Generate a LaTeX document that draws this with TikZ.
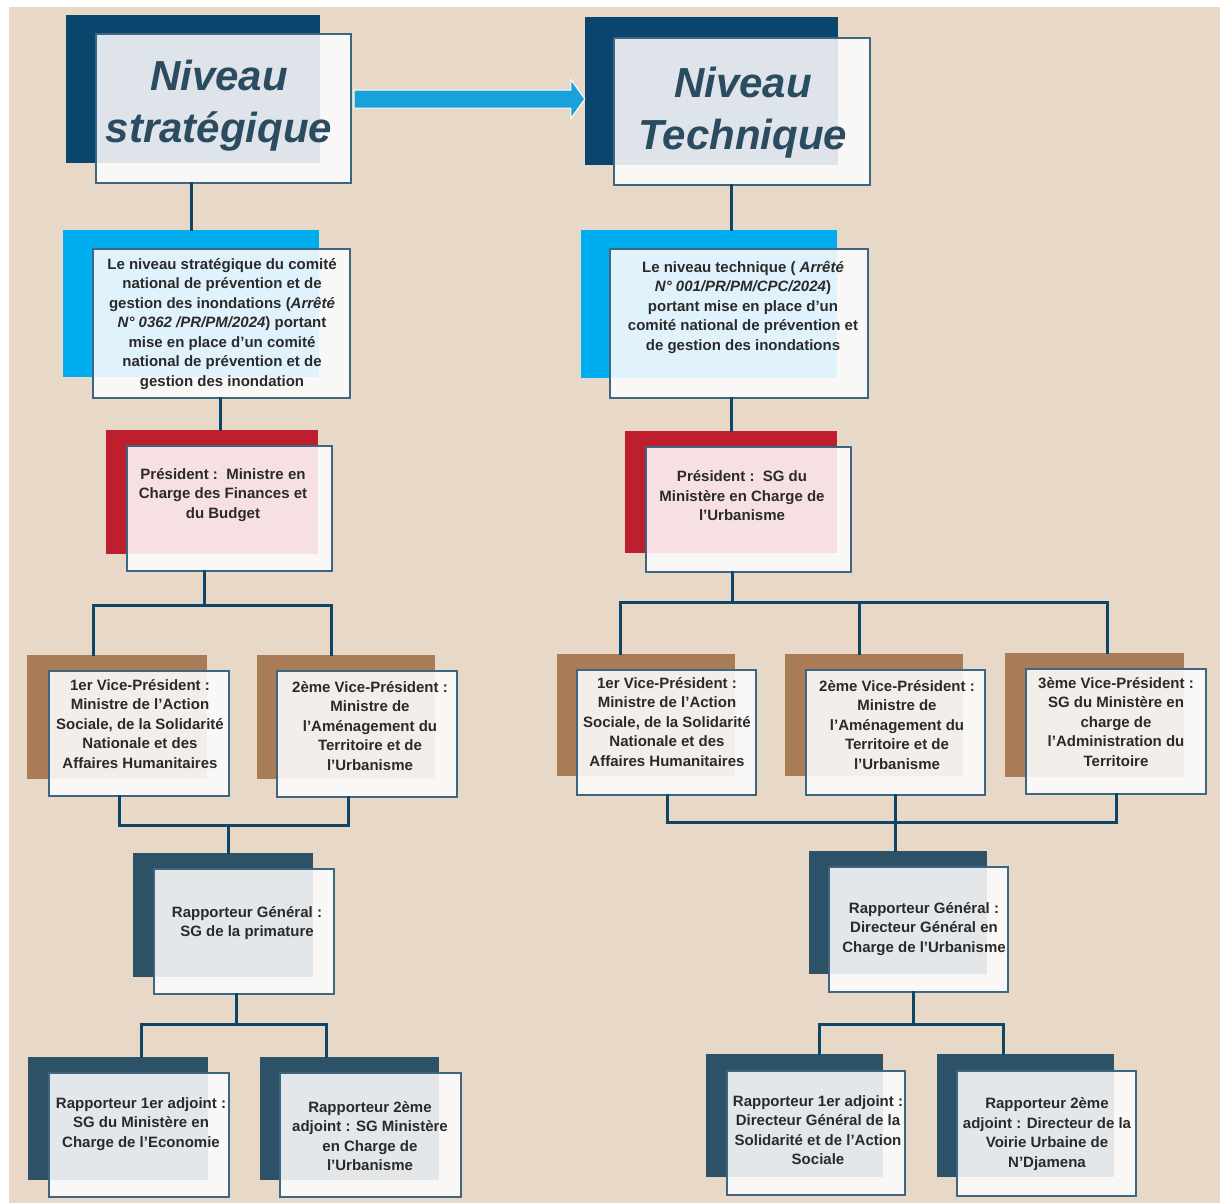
\documentclass[tikz,border=0pt]{standalone}
\usepackage{fontspec}
\setmainfont{Liberation Sans}
\usetikzlibrary{fit,calc}
\definecolor{bgc}{HTML}{E7D8C8}
\definecolor{navyc}{HTML}{0A456E}
\definecolor{navyt}{HTML}{DEE4EA}
\definecolor{bluec}{HTML}{00AEEF}
\definecolor{bluet}{HTML}{E0F3FC}
\definecolor{redc}{HTML}{BE1E2D}
\definecolor{redt}{HTML}{F6E0E3}
\definecolor{brownc}{HTML}{A97C57}
\definecolor{brownt}{HTML}{F3EEEA}
\definecolor{slatec}{HTML}{2D5166}
\definecolor{slatet}{HTML}{E3E7EA}
\definecolor{frontc}{HTML}{FAF8F6}
\definecolor{linec}{HTML}{3D6680}
\definecolor{connc}{HTML}{0F4668}
\definecolor{arrowc}{HTML}{18A2D9}
\definecolor{txtc}{HTML}{2A2A2A}
\definecolor{titlec}{HTML}{2B4B60}
\newcommand\orgbox[7]{%
  \fill[#2] #4 rectangle #5;
  \fill[frontc] #6 rectangle #7;
  \fill[#3] #6 rectangle #5;
  \draw[frontline] #6 rectangle #7;
  \path #4 coordinate (#1-b1) #5 coordinate (#1-b2) #6 coordinate (#1-f1) #7 coordinate (#1-f2);
  \node[fit=(#1-b1)(#1-b2)(#1-f1)(#1-f2), inner sep=0pt] (#1) {};
}
\begin{document}
\begin{tikzpicture}[x=1pt,y=-1pt,
  frontline/.style={draw=linec, line width=1.5pt},
  conn/.style={draw=connc, line width=3pt, line cap=rect},
  txt/.style={align=center, inner sep=0pt, text=txtc, font=\fontsize{15}{19.5}\selectfont\bfseries},
  ttl/.style={align=center, inner sep=0pt, text=titlec, font=\fontsize{42}{52}\selectfont\bfseries\itshape}]
\useasboundingbox (0,0) rectangle (1224,1203);
\fill[white] (0,0) rectangle (1224,1203);
\fill[bgc] (9,7) rectangle (1220,1203);

% boxes
\orgbox{sT}{navyc}{navyt}{(66,15)}{(320,163)}{(96,34)}{(351,183)}
\orgbox{tT}{navyc}{navyt}{(585,17)}{(838,165)}{(614,38)}{(870,185)}
\orgbox{sI}{bluec}{bluet}{(63,230)}{(319,377)}{(93,249)}{(350,398)}
\orgbox{tI}{bluec}{bluet}{(581,230)}{(837,378)}{(610,249)}{(868,398)}
\orgbox{sP}{redc}{redt}{(106,430)}{(318,554)}{(127,446)}{(332,571)}
\orgbox{tP}{redc}{redt}{(625,431)}{(837,553)}{(646,447)}{(851,572)}
\orgbox{sV1}{brownc}{brownt}{(27,655)}{(207,779)}{(49,671)}{(229,796)}
\orgbox{sV2}{brownc}{brownt}{(257,655)}{(435,779)}{(277,671)}{(457,797)}
\orgbox{tV1}{brownc}{brownt}{(557,654)}{(735,776)}{(577,670)}{(756,795)}
\orgbox{tV2}{brownc}{brownt}{(785,654)}{(963,776)}{(806,670)}{(985,795)}
\orgbox{tV3}{brownc}{brownt}{(1005,653)}{(1184,777)}{(1026,669)}{(1206,794)}
\orgbox{sR}{slatec}{slatet}{(133,853)}{(313,977)}{(154,869)}{(334,994)}
\orgbox{tR}{slatec}{slatet}{(809,851)}{(987,974)}{(829,867)}{(1008,992)}
\orgbox{sA1}{slatec}{slatet}{(28,1057)}{(208,1180)}{(49,1073)}{(229,1197)}
\orgbox{sA2}{slatec}{slatet}{(260,1057)}{(439,1180)}{(280,1073)}{(461,1197)}
\orgbox{tA1}{slatec}{slatet}{(706,1054)}{(883,1177)}{(727,1071)}{(905,1195)}
\orgbox{tA2}{slatec}{slatet}{(937,1054)}{(1114,1177)}{(957,1071)}{(1136,1196)}

% texts
\node[ttl] (sTtxt) at (219,105.5) {Niveau\\stratégique};
\node[ttl] (tTtxt) at (743,112.5) {Niveau\\Technique};
\node[txt] (sItxt) at (222,324) {Le niveau stratégique du comité\\national de prévention et de\\gestion des inondations (\textit{Arrêté}\\\textit{N° 0362 /PR/PM/2024}) portant\\mise en place d’un comité\\national de prévention et de\\gestion des inondation};
\node[txt] (tItxt) at (743,307) {Le niveau technique ( \textit{Arrêté}\\\textit{N° 001/PR/PM/CPC/2024})\\portant mise en place d’un\\comité national de prévention et\\de gestion des inondations};
\node[txt] (sPtxt) at (223,495) {Président :\ \ Ministre en\\Charge des Finances et\\du Budget};
\node[txt] (tPtxt) at (742,496) {Président :\ \ SG du\\Ministère en Charge de\\l’Urbanisme};
\node[txt] (sV1txt) at (140,724) {1er Vice-Président :\\Ministre de l’Action\\Sociale, de la Solidarité\\Nationale et des\\Affaires Humanitaires};
\node[txt] (sV2txt) at (370,726) {2ème Vice-Président :\\Ministre de\\l’Aménagement du\\Territoire et de\\l’Urbanisme};
\node[txt] (tV1txt) at (667,722) {1er Vice-Président :\\Ministre de l’Action\\Sociale, de la Solidarité\\Nationale et des\\Affaires Humanitaires};
\node[txt] (tV2txt) at (897,725) {2ème Vice-Président :\\Ministre de\\l’Aménagement du\\Territoire et de\\l’Urbanisme};
\node[txt] (tV3txt) at (1116,722) {3ème Vice-Président :\\SG du Ministère en\\charge de\\l'Administration du\\Territoire};
\node[txt] (sRtxt) at (247,923) {Rapporteur Général :\\SG de la primature};
\node[txt] (tRtxt) at (924,929) {Rapporteur Général :\\Directeur Général en\\Charge de l’Urbanisme};
\node[txt] (sA1txt) at (141,1124) {Rapporteur 1er adjoint :\\SG du Ministère en\\Charge de l’Economie};
\node[txt] (sA2txt) at (370,1136) {Rapporteur 2ème\\adjoint : SG Ministère\\en Charge de\\l’Urbanisme};
\node[txt] (tA1txt) at (818,1130) {Rapporteur 1er adjoint :\\Directeur Général de la\\Solidarité et de l’Action\\Sociale};
\node[txt] (tA2txt) at (1047,1134) {Rapporteur 2ème\\adjoint : Directeur de la\\Voirie Urbaine de\\N’Djamena};

% arrow between levels
\coordinate (aS) at (sT.east);
\coordinate (aT) at (sT.east -| tT.west);
\filldraw[fill=arrowc, draw=white, line width=1pt]
  ($(aS)+(3,-9)$) -- ($(aT)+(-14,-9)$) -- ($(aT)+(-14,-19.5)$) -- (aT)
  -- ($(aT)+(-14,19.5)$) -- ($(aT)+(-14,9)$) -- ($(aS)+(3,9)$) -- cycle;

% strategic connectors
\coordinate (xs1) at (191,0);
\coordinate (xs2) at (220,0);
\draw[conn] (sT.south -| xs1) -- (sI.north -| xs1);
\draw[conn] (sI.south -| xs2) -- (sP.north -| xs2);
\coordinate (sbusA) at (204,605);
\coordinate (sbusL) at (93,605);
\coordinate (sbusR) at (331,605);
\draw[conn] (sP.south -| sbusA) -- (sbusA);
\draw[conn] (sV1.north -| sbusL) -- (sbusL) -- (sbusR) -- (sV2.north -| sbusR);
\coordinate (sbusB) at (228,825);
\coordinate (sbusBL) at (119,825);
\coordinate (sbusBR) at (348,825);
\draw[conn] (sV1.south -| sbusBL) -- (sbusBL) -- (sbusBR) -- (sV2.south -| sbusBR);
\draw[conn] (sbusB) -- (sR.north -| sbusB);
\coordinate (sbusC) at (236,1024);
\coordinate (sbusCL) at (141,1024);
\coordinate (sbusCR) at (326,1024);
\draw[conn] (sR.south -| sbusC) -- (sbusC);
\draw[conn] (sA1.north -| sbusCL) -- (sbusCL) -- (sbusCR) -- (sA2.north -| sbusCR);

% technical connectors
\coordinate (xt1) at (731,0);
\draw[conn] (tT.south -| xt1) -- (tI.north -| xt1);
\draw[conn] (tI.south -| xt1) -- (tP.north -| xt1);
\coordinate (tbusA) at (732,602);
\coordinate (tbusL) at (620,602);
\coordinate (tbusM) at (859,602);
\coordinate (tbusR) at (1107,602);
\draw[conn] (tP.south -| tbusA) -- (tbusA);
\draw[conn] (tV1.north -| tbusL) -- (tbusL) -- (tbusR) -- (tV3.north -| tbusR);
\draw[conn] (tbusM) -- (tV2.north -| tbusM);
\coordinate (tbusB) at (895,822);
\coordinate (tbusBL) at (667,822);
\coordinate (tbusBR) at (1116,822);
\draw[conn] (tV1.south -| tbusBL) -- (tbusBL) -- (tbusBR) -- (tV3.south -| tbusBR);
\draw[conn] (tV2.south -| tbusB) -- (tbusB) -- (tR.north -| tbusB);
\coordinate (tbusC) at (913,1024);
\coordinate (tbusCL) at (819,1024);
\coordinate (tbusCR) at (1003,1024);
\draw[conn] (tR.south -| tbusC) -- (tbusC);
\draw[conn] (tA1.north -| tbusCL) -- (tbusCL) -- (tbusCR) -- (tA2.north -| tbusCR);
\end{tikzpicture}
\end{document}
